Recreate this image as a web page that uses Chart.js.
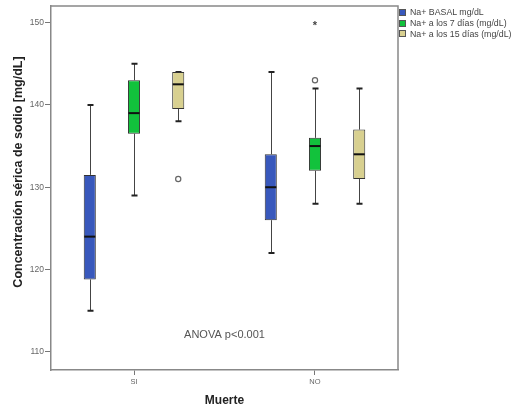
<!DOCTYPE html>
<html><head><meta charset="utf-8">
<script src="https://cdn.jsdelivr.net/npm/chart.js@4"></script>
<style>
html,body{margin:0;padding:0;background:#fff;}
#wrap{position:relative;width:519px;height:408px;}
canvas{position:absolute;left:0;top:0;}
#legend{position:absolute;left:399px;top:7px;font:8.8px "Liberation Sans",Arial,sans-serif;color:#444;}
.item{display:flex;align-items:center;height:10.7px;white-space:nowrap;}
.sw{width:7px;height:7px;border:1px solid #555;margin-right:4px;box-sizing:border-box;}
</style></head>
<body><div id="wrap"><canvas id="c" width="519" height="408"></canvas><div id="legend"></div></div>
<script>
// ---- data ----
const categories = ['SI', 'NO'];
const seriesNames = ['Na+ BASAL mg/dL', 'Na+ a los 7 días (mg/dL)', 'Na+ a los 15 días (mg/dL)'];
const seriesColors = ['#3858bc', '#12c23c', '#d8d090'];
// per series, per category
const basalMin = [115, 122];
const basalQ1 = [118.8, 126];
const basalMed = [124, 130];
const basalQ3 = [131.5, 134];
const basalMax = [140, 144];
const dia7Min = [129, 128];
const dia7Q1 = [136.5, 132];
const dia7Med = [139, 135];
const dia7Q3 = [143, 136];
const dia7Max = [145, 142];
const dia15Min = [138, 128];
const dia15Q1 = [139.5, 131];
const dia15Med = [142.5, 134];
const dia15Q3 = [144, 137];
const dia15Max = [144, 142];
const dia7Outliers = [[], [143]];
const dia7Extremes = [[], [150]];
const dia15Outliers = [[131], []];
const basalOutliers = [[], []];
const yTicks = [110, 120, 130, 140, 150];
const yTitle = 'Concentración sérica de sodio [mg/dL]';
const xTitle = 'Muerte';
const annotationText = 'ANOVA p<0.001';

const stats = [
  {min: basalMin, q1: basalQ1, med: basalMed, q3: basalQ3, max: basalMax, out: basalOutliers, ext: [[], []]},
  {min: dia7Min, q1: dia7Q1, med: dia7Med, q3: dia7Q3, max: dia7Max, out: dia7Outliers, ext: dia7Extremes},
  {min: dia15Min, q1: dia15Q1, med: dia15Med, q3: dia15Q3, max: dia15Max, out: dia15Outliers, ext: [[], []]}
];

const FONT = '"Liberation Sans", Arial, sans-serif';

const datasets = stats.map((s, k) => ({
  label: seriesNames[k],
  data: categories.map((c, i) => ({x: i + 1, y: [s.q1[i], s.q3[i]]})),
  backgroundColor: seriesColors[k],
  borderColor: '#333',
  borderWidth: 1,
  borderSkipped: false,
  barPercentage: 0.273,
  categoryPercentage: 0.733
}));

const boxPlugin = {
  id: 'boxparts',
  beforeDatasetsDraw(chart) {
    const ctx = chart.ctx, y = chart.scales.y;
    ctx.save();
    stats.forEach((s, k) => {
      chart.getDatasetMeta(k).data.forEach((bar, i) => {
        const cx = Math.round(bar.x) + 0.5;
        ctx.strokeStyle = '#444';
        ctx.lineWidth = 1;
        ctx.beginPath();
        ctx.moveTo(cx, y.getPixelForValue(s.max[i]));
        ctx.lineTo(cx, y.getPixelForValue(s.q3[i]));
        ctx.moveTo(cx, y.getPixelForValue(s.q1[i]));
        ctx.lineTo(cx, y.getPixelForValue(s.min[i]));
        ctx.stroke();
        ctx.lineWidth = 2;
        ctx.strokeStyle = '#222';
        ctx.beginPath();
        [s.max[i], s.min[i]].forEach(v => {
          const py = y.getPixelForValue(v);
          ctx.moveTo(cx - 3, py); ctx.lineTo(cx + 3, py);
        });
        ctx.stroke();
      });
    });
    ctx.restore();
  },
  afterDatasetsDraw(chart) {
    const ctx = chart.ctx, y = chart.scales.y;
    ctx.save();
    stats.forEach((s, k) => {
      chart.getDatasetMeta(k).data.forEach((bar, i) => {
        const half = bar.width / 2;
        const py = y.getPixelForValue(s.med[i]);
        ctx.strokeStyle = '#111';
        ctx.lineWidth = 2;
        ctx.beginPath();
        ctx.moveTo(bar.x - half + 0.5, py); ctx.lineTo(bar.x + half - 0.5, py);
        ctx.stroke();
        s.out[i].forEach(v => {
          ctx.beginPath();
          ctx.arc(bar.x, y.getPixelForValue(v), 2.6, 0, Math.PI * 2);
          ctx.fillStyle = '#fff'; ctx.fill();
          ctx.strokeStyle = '#666'; ctx.lineWidth = 1.2; ctx.stroke();
        });
        s.ext[i].forEach(v => {
          ctx.fillStyle = '#444';
          ctx.font = 'bold 11px ' + FONT;
          ctx.textAlign = 'center'; ctx.textBaseline = 'middle';
          ctx.fillText('*', bar.x, y.getPixelForValue(v) + 3);
        });
      });
    });
    const a = chart.chartArea;
    ctx.fillStyle = '#555';
    ctx.font = '11px ' + FONT;
    ctx.textAlign = 'center'; ctx.textBaseline = 'middle';
    ctx.fillText(annotationText, (a.left + a.right) / 2, a.bottom - 35);
    ctx.restore();
  },
  afterDraw(chart) {
    const ctx = chart.ctx, a = chart.chartArea;
    ctx.save();
    ctx.strokeStyle = '#888';
    ctx.lineWidth = 1.5;
    ctx.beginPath();
    ctx.moveTo(a.left, a.top); ctx.lineTo(a.right, a.top); ctx.lineTo(a.right, a.bottom);
    ctx.stroke();
    // y axis title
    ctx.translate(19, 172);
    ctx.rotate(-Math.PI / 2);
    ctx.fillStyle = '#222';
    ctx.font = 'bold 12.5px ' + FONT;
    ctx.textAlign = 'center'; ctx.textBaseline = 'middle';
    ctx.fillText(yTitle, 0, 0);
    ctx.restore();
  }
};

new Chart(document.getElementById('c'), {
  type: 'bar',
  data: {datasets},
  options: {
    responsive: false,
    animation: false,
    layout: {padding: {top: 6, right: 121, left: 0, bottom: 0}},
    plugins: {legend: {display: false}, tooltip: {enabled: false}},
    scales: {
      x: {
        type: 'linear', min: 0.5414, max: 2.4586, offset: false,
        afterBuildTicks: s => { s.ticks = categories.map((c, i) => ({value: i + 1})); },
        afterFit: s => { s.height = 38; },
        ticks: {callback: v => categories[v - 1], font: {family: FONT, size: 7.5}, color: '#666', padding: 2, autoSkip: false},
        grid: {drawOnChartArea: false, tickLength: 5, color: '#777', offset: false},
        border: {color: '#888', width: 1.5},
        title: {display: true, text: xTitle, font: {family: FONT, size: 12, weight: 'bold'}, color: '#222', padding: {top: 4, bottom: 0}}
      },
      y: {
        min: 107.8, max: 152,
        afterBuildTicks: s => { s.ticks = yTicks.map(v => ({value: v})); },
        afterFit: s => { s.width = 51; },
        ticks: {font: {family: FONT, size: 8.5}, color: '#666', padding: 1},
        grid: {drawOnChartArea: false, tickLength: 6, color: '#777'},
        border: {color: '#888', width: 1.5},
        title: {display: false}
      }
    }
  },
  plugins: [boxPlugin]
});

const leg = document.getElementById('legend');
seriesNames.forEach((n, k) => {
  const d = document.createElement('div'); d.className = 'item';
  const sw = document.createElement('span'); sw.className = 'sw'; sw.style.background = seriesColors[k];
  const t = document.createElement('span'); t.textContent = n;
  d.appendChild(sw); d.appendChild(t); leg.appendChild(d);
});
</script>
</body></html>
